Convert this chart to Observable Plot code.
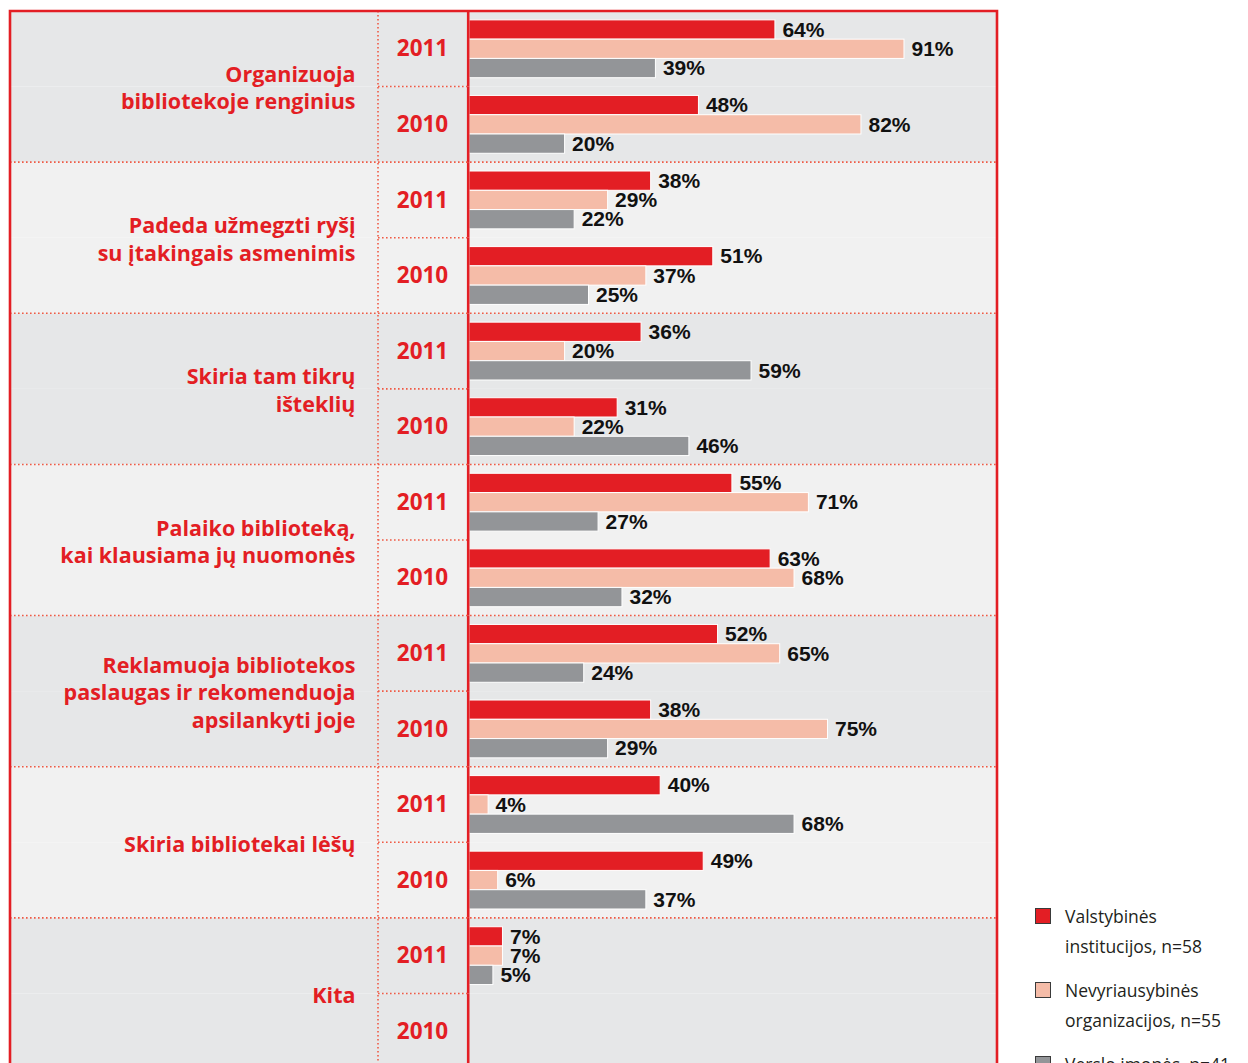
<!DOCTYPE html>
<html>
<head>
<meta charset="utf-8">
<script src="https://cdn.jsdelivr.net/npm/d3@7"></script>
<script src="https://cdn.jsdelivr.net/npm/@observablehq/plot@0.6"></script>
<style>
  html, body { margin: 0; padding: 0; background: #fff; }
  #wrap { position: relative; width: 1248px; height: 1063px; overflow: hidden; }
  #chart svg { display: block; position: absolute; left: 0; top: 0; }
  #legend { position: absolute; left: 1035px; top: 901px; font-family: "Open Sans", sans-serif; font-size: 17.5px; color: #231f20; }
  .item { display: flex; align-items: flex-start; margin-bottom: 14px; }
  .sw { width: 14px; height: 14px; border: 1px solid #3a3a3a; margin-top: 7px; margin-right: 14px; flex: none; }
  .lbl { line-height: 30px; white-space: nowrap; }
</style>
</head>
<body>
<div id="wrap"><div id="chart"></div><div id="legend"></div></div>
<script>
// ---- data ----
const groups = [
  "Organizuoja\nbibliotekoje renginius",
  "Padeda užmegzti ryšį\nsu įtakingais asmenimis",
  "Skiria tam tikrų\ništeklių",
  "Palaiko biblioteką,\nkai klausiama jų nuomonės",
  "Reklamuoja bibliotekos\npaslaugas ir rekomenduoja\napsilankyti joje",
  "Skiria bibliotekai lėšų",
  "Kita"
];
const years = ["2011", "2010"];
const series = ["Valstybinės institucijos, n=58", "Nevyriausybinės organizacijos, n=55", "Verslo įmonės, n=41"];
const legendLines = [["Valstybinės", "institucijos, n=58"], ["Nevyriausybinės", "organizacijos, n=55"], ["Verslo įmonės, n=41"]];
const valst2011   = [64, 38, 36, 55, 52, 40, 7];
const nvo2011     = [91, 29, 20, 71, 65, 4, 7];
const verslo2011  = [39, 22, 59, 27, 24, 68, 5];
const valst2010   = [48, 51, 31, 63, 38, 49, null];
const nvo2010     = [82, 37, 22, 68, 75, 6, null];
const verslo2010  = [20, 25, 46, 32, 29, 37, null];
const colors = ["#e31e24", "#f5bca8", "#939598"];

(function () {
// ---- build tables ----
const values = {
  "2011": [valst2011, nvo2011, verslo2011],
  "2010": [valst2010, nvo2010, verslo2010]
};
const facetRows = [];
const bars = [];
groups.forEach((g, gi) => {
  years.forEach(yr => {
    const key = gi + "|" + yr;
    facetRows.push({key, gi, year: yr, group: g});
    series.forEach((s, si) => {
      const v = values[yr][si][gi];
      if (v != null) bars.push({key, series: s, value: v});
    });
  });
});
const keys = facetRows.map(d => d.key);

const RED = "#e31e24";
const DOT = "#ef5a45";
const xZero = 469;
const frameL = 10, frameR = 997, frameT = 11;
const W = 1248, H = 1069;

const plot = Plot.plot({
  width: W, height: H,
  marginLeft: frameL, marginRight: W - frameR, marginTop: frameT, marginBottom: 0,
  style: {background: "transparent", overflow: "visible"},
  x: {domain: [0, 100], range: [xZero, xZero + 478], axis: null},
  y: {domain: series, paddingInner: 0, paddingOuter: 0.46, round: false, axis: null},
  fy: {domain: keys, padding: 0, round: false, axis: null},
  color: {domain: series, range: colors},
  marks: [
    Plot.rect(facetRows, {fy: "key", fill: d => d.gi % 2 ? "#f1f1f1" : "#e6e7e8"}),
    Plot.barX(bars, {fy: "key", y: "series", x: "value", fill: "series", stroke: "white", strokeWidth: 1}),
    Plot.ruleX([0], {stroke: RED, strokeWidth: 2.6, dx: -1.3}),
    Plot.text(bars, {
      fy: "key", y: "series", x: "value", text: d => d.value + "%",
      textAnchor: "start", dx: 7, fill: "#111", ariaLabel: "values",
      fontFamily: "'Liberation Sans', Arial, sans-serif",
      fontWeight: "bold", fontSize: 21
    }),
    Plot.text(facetRows, {
      fy: "key", text: "year", frameAnchor: "left", dx: (xZero - 47) - frameL,
      textAnchor: "middle", fill: RED, fontFamily: "'Open Sans', sans-serif",
      fontWeight: "bold", fontSize: 22.5
    }),
    Plot.text(facetRows.filter(d => d.year === "2011"), {
      fy: "key", text: "group", frameAnchor: "bottom-left", dx: 355 - frameL,
      textAnchor: "end", lineAnchor: "middle", lineHeight: 1.27, fill: RED,
      fontFamily: "'Open Sans', sans-serif", fontWeight: "bold", fontSize: 21.5
    })
  ]
});
document.getElementById("chart").appendChild(plot);

const svg = d3.select(plot);
// condensed look for the value labels
svg.selectAll('g[aria-label="values"] text').each(function () {
  const t = this.getAttribute("transform");
  if (t) this.setAttribute("transform", t + " scale(0.86,1)");
});

// ---- decorative grid lines (pixel layout from the scales) ----
const fy = plot.scale("fy");
const facetTop = k => fy.apply(k);
const deco = svg.append("g");
const yearColX = xZero - 91;
const bottom = H;
groups.forEach((g, gi) => {
  if (gi > 0) {
    const y = facetTop(gi + "|2011");
    deco.append("line").attr("x1", frameL).attr("x2", frameR).attr("y1", y).attr("y2", y)
      .attr("stroke", DOT).attr("stroke-width", 1.6).attr("stroke-dasharray", "1.6 2.4");
  }
  const y2 = facetTop(gi + "|2010");
  deco.append("line").attr("x1", yearColX).attr("x2", xZero - 2).attr("y1", y2).attr("y2", y2)
    .attr("stroke", DOT).attr("stroke-width", 1.6).attr("stroke-dasharray", "1.6 2.4");
});
deco.append("line").attr("x1", yearColX).attr("x2", yearColX).attr("y1", frameT).attr("y2", bottom)
  .attr("stroke", DOT).attr("stroke-width", 1.6).attr("stroke-dasharray", "1.6 2.4");
deco.append("path")
  .attr("d", `M${frameL},${bottom}V${frameT}H${frameR}V${bottom}`)
  .attr("fill", "none").attr("stroke", RED).attr("stroke-width", 2.6);

// ---- legend ----
const legend = document.getElementById("legend");
series.forEach((s, i) => {
  const item = document.createElement("div");
  item.className = "item";
  const sw = document.createElement("div");
  sw.className = "sw";
  sw.style.background = colors[i];
  const lbl = document.createElement("div");
  lbl.className = "lbl";
  lbl.innerHTML = legendLines[i].join("<br>");
  item.appendChild(sw); item.appendChild(lbl);
  legend.appendChild(item);
});
})();
</script>
</body>
</html>
